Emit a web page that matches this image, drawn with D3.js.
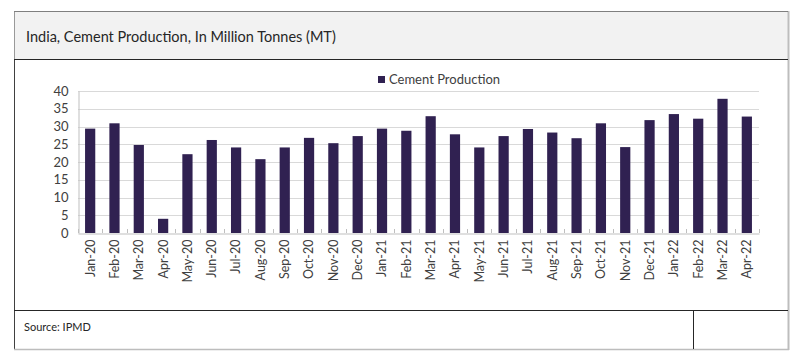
<!DOCTYPE html>
<html>
<head>
<meta charset="utf-8">
<script src="https://cdn.jsdelivr.net/npm/d3@7"></script>
<style>
body { margin:0; background:#fff; }
text { font-family: Lato, "Open Sans", sans-serif; }
</style>
</head>
<body>
<div id="chart"></div>
<script>
var months = ["Jan-20","Feb-20","Mar-20","Apr-20","May-20","Jun-20","Jul-20","Aug-20","Sep-20","Oct-20","Nov-20","Dec-20",
	"Jan-21","Feb-21","Mar-21","Apr-21","May-21","Jun-21","Jul-21","Aug-21","Sep-21","Oct-21","Nov-21","Dec-21",
	"Jan-22","Feb-22","Mar-22","Apr-22"];
var production = [29.4,30.9,24.8,4.0,22.2,26.2,24.1,20.8,24.1,26.8,25.3,27.3,
	29.4,28.8,32.9,27.8,24.1,27.3,29.3,28.3,26.7,30.9,24.2,31.8,
	33.5,32.2,37.8,32.8];
var yTicks = [0,5,10,15,20,25,30,35,40];
var seriesName = "Cement Production";
var title = "India, Cement Production, In Million Tonnes (MT)";
var source = "Source: IPMD";

var svg = d3.select("#chart").append("svg")
	.attr("width", 800)
	.attr("height", 363);

// outer frame
svg.append("rect").attr("x", 14.5).attr("y", 11.5).attr("width", 774).attr("height", 338)
	.attr("fill", "#fff").attr("stroke", "#404040");
svg.append("rect").attr("x", 14.5).attr("y", 11.5).attr("width", 774).attr("height", 47.5)
	.attr("fill", "#f2f2f2").attr("stroke", "none");
svg.append("line").attr("x1", 788.5).attr("x2", 788.5).attr("y1", 11).attr("y2", 350)
	.attr("stroke", "#bdbdbd").attr("stroke-width", 2);
svg.append("line").attr("x1", 14).attr("x2", 789).attr("y1", 349.5).attr("y2", 349.5)
	.attr("stroke", "#bdbdbd").attr("stroke-width", 1.5);
svg.append("line").attr("x1", 14).attr("x2", 788).attr("y1", 11.5).attr("y2", 11.5)
	.attr("stroke", "#7f7f7f");
svg.append("line").attr("x1", 14).attr("x2", 788).attr("y1", 59.5).attr("y2", 59.5)
	.attr("stroke", "#262626");
svg.append("line").attr("x1", 14).attr("x2", 788).attr("y1", 310.5).attr("y2", 310.5)
	.attr("stroke", "#262626");
svg.append("line").attr("x1", 693.5).attr("x2", 693.5).attr("y1", 310).attr("y2", 349)
	.attr("stroke", "#262626");

svg.append("text").attr("x", 26).attr("y", 42)
	.attr("font-size", 14.5).attr("fill", "#262626").text(title);
svg.append("text").attr("x", 24).attr("y", 331)
	.attr("font-size", 11).attr("fill", "#262626").text(source);

var x = d3.scaleBand().domain(months).range([78, 759]).paddingInner(0.58).paddingOuter(0.29);
var y = d3.scaleLinear().domain([0, 40]).range([233, 91]);

// gridlines
svg.append("g").selectAll("line")
	.data(yTicks.slice(1))
	.enter()
	.append("line")
	.attr("x1", 78).attr("x2", 759)
	.attr("y1", function(d){ return Math.round(y(d)) + 0.5; })
	.attr("y2", function(d){ return Math.round(y(d)) + 0.5; })
	.attr("stroke", "#d9d9d9");

// y axis
var yAxis = svg.append("g").attr("transform", "translate(78.5,0)")
	.call(d3.axisLeft(y).tickValues(yTicks).tickSize(0).tickPadding(10));
yAxis.select(".domain").attr("stroke", "#bfbfbf");
yAxis.selectAll("text").attr("font-size", 13).attr("fill", "#404040")
	.style("font-family", "Lato, 'Open Sans', sans-serif");

// bars
svg.append("g").selectAll("rect")
	.data(production)
	.enter()
	.append("rect")
	.attr("x", function(d, i){ return x(months[i]); })
	.attr("y", function(d){ return y(d); })
	.attr("width", x.bandwidth())
	.attr("height", function(d){ return y(0) - y(d); })
	.attr("fill", "#302151");

// x axis
var xAxis = svg.append("g").attr("transform", "translate(0," + (y(0) + 0.5) + ")")
	.call(d3.axisBottom(x).tickSize(0).tickPadding(6));
xAxis.select(".domain").attr("stroke", "#bfbfbf");
xAxis.selectAll("text")
	.attr("transform", "rotate(-90)")
	.attr("text-anchor", "end")
	.attr("dy", "0.35em")
	.attr("x", -6).attr("y", 0)
	.attr("font-size", 12.5).attr("fill", "#404040")
	.style("font-family", "Lato, 'Open Sans', sans-serif");

// category boundary ticks
var step = x.step();
var bounds = d3.range(months.length + 1).map(function(i){ return 78 + i * step; });
svg.append("g").selectAll("line")
	.data(bounds)
	.enter()
	.append("line")
	.attr("x1", function(d){ return Math.round(d) + 0.5; })
	.attr("x2", function(d){ return Math.round(d) + 0.5; })
	.attr("y1", y(0) - 4).attr("y2", y(0))
	.attr("stroke", "#bfbfbf");

// legend
svg.append("rect").attr("x", 378).attr("y", 76).attr("width", 7).attr("height", 7).attr("fill", "#302151");
svg.append("text").attr("x", 389).attr("y", 84)
	.attr("font-size", 13).attr("fill", "#404040").text(seriesName);
</script>
</body>
</html>
